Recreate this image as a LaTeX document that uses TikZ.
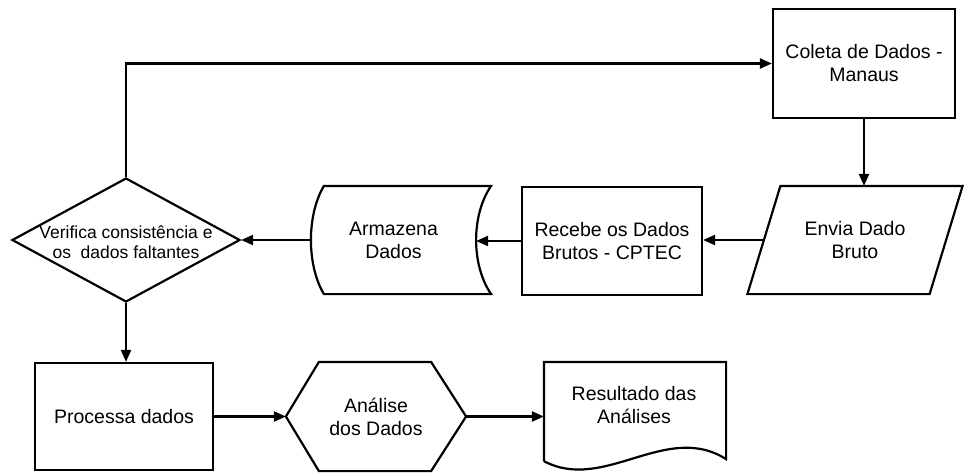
\documentclass[tikz,border=0pt]{standalone}
\usepackage{fontspec}
\setmainfont{Liberation Sans}
\usetikzlibrary{arrows.meta,shapes.geometric,calc}
\begin{document}
\begin{tikzpicture}[x=1pt,y=-1pt,line width=2.2pt,
  every node/.style={font=\fontsize{19.5}{23}\selectfont,align=center,inner sep=0pt},
  arr/.style={-{Triangle[length=12pt,width=10pt]}},
  boxshape/.style={draw,rectangle}]
\useasboundingbox (0,0) rectangle (965,472);
% nodes
\node[boxshape,minimum width=182pt,minimum height=109pt] (col) at (864,63.5) {Coleta de Dados -\\Manaus};
\node[minimum width=180pt,minimum height=106pt] (env) at (855,240) {Envia Dado\\Bruto};
\node[boxshape,minimum width=180pt,minimum height=108pt] (rec) at (612,241) {Recebe os Dados\\Brutos - CPTEC};
\node[minimum width=163pt,minimum height=106pt] (arm) at (393.5,240) {Armazena\\Dados};
\node[diamond,draw,minimum width=228pt,minimum height=124pt] (dia) at (126,240) {};
\node[font=\fontsize{17.5}{20}\selectfont] (diat) at (126,242) {Verifica consistência e\\os\ \ dados faltantes};
\node[boxshape,minimum width=178pt,minimum height=107pt] (proc) at (124,416.5) {Processa dados};
\node[minimum width=178pt,minimum height=107pt] (ana) at (376,416.5) {Análise\\dos Dados};
\node[minimum width=180pt,minimum height=107pt] (res) at (635,416.5) {};
\node (rest) at (634,405) {Resultado das\\Análises};
% outlines
\draw ($(env.north west)+(16.5,0)$) -- ($(env.north east)+(16.5,0)$) -- ($(env.south east)+(-16.5,0)$) -- ($(env.south west)+(-16.5,0)$) -- cycle;
\draw ($(arm.north west)+(13,0)$) -- ($(arm.north east)+(15,0)$)
  .. controls ($(arm.east)+(-5,-25)$) and ($(arm.east)+(-5,25)$) .. ($(arm.south east)+(15,0)$)
  -- ($(arm.south west)+(13,0)$)
  .. controls ($(arm.west)+(-4.3,25)$) and ($(arm.west)+(-4.3,-25)$) .. cycle;
\draw (ana.west) -- ($(ana.north west)+(33,0)$) -- ($(ana.north east)+(-35,0)$) -- (ana.east) -- ($(ana.south east)+(-35,0)$) -- ($(ana.south west)+(33,0)$) -- cycle;
\draw ($(res.south west)+(0,-10)$) -- (res.north west) -- (res.north east) -- ($(res.south east)+(0,-12)$)
  .. controls ($(res.south east)+(-60,-50)$) and ($(res.south west)+(60,22)$) .. ($(res.south west)+(0,-10)$);
% connectors
\draw[arr] (dia.north) |- (col.west);
\draw[arr] (col.south) -- (col.south |- env.north);
\draw[arr] (env.west) -- (env.west -| rec.east);
\draw[arr] (rec.west) -- (rec.west -| arm.east);
\draw[arr] (arm.west) -- (dia.east);
\draw[arr] (dia.south) -- (dia.south |- proc.north);
\draw[arr] (proc.east) -- (ana.west);
\draw[arr] (ana.east) -- (res.west);
\end{tikzpicture}
\end{document}
